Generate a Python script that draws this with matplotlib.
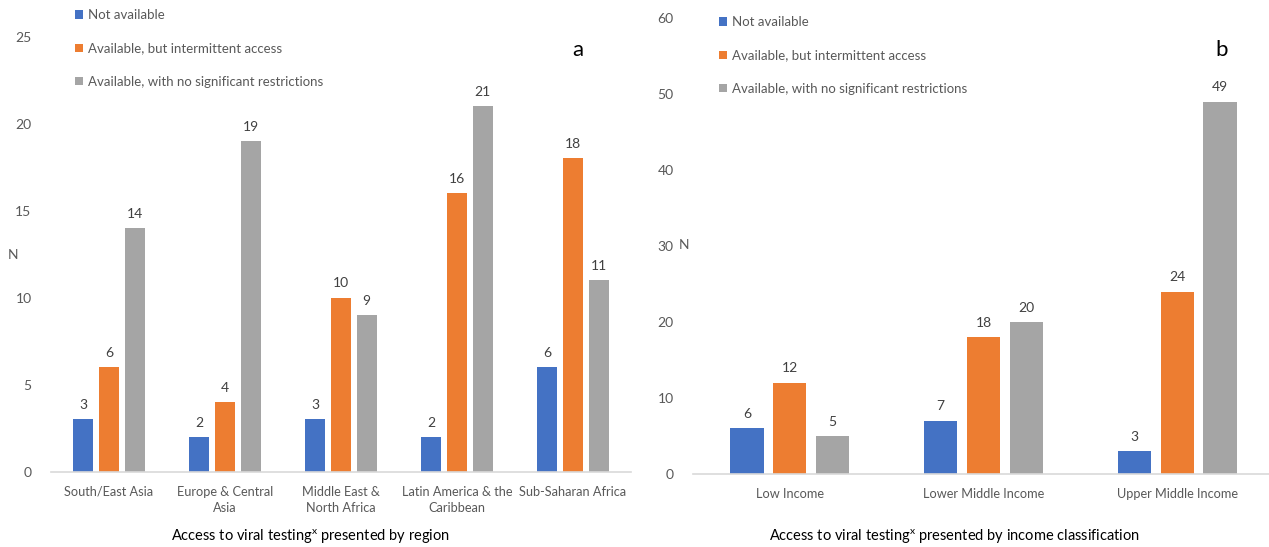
import matplotlib
import matplotlib.pyplot as plt
import numpy as np

plt.rcParams['font.family'] = ['Lato', 'DejaVu Sans']

series = ['Not available', 'Available, but intermittent access',
          'Available, with no significant restrictions']
colors = ['#4472C4', '#ED7D31', '#A5A5A5']

regions = ['South/East Asia', 'Europe & Central\nAsia', 'Middle East &\nNorth Africa',
           'Latin America & the\nCaribbean', 'Sub-Saharan Africa']
region_not = [3, 2, 3, 2, 6]
region_inter = [6, 4, 10, 16, 18]
region_full = [14, 19, 9, 21, 11]

incomes = ['Low Income', 'Lower Middle Income', 'Upper Middle Income']
income_not = [6, 7, 3]
income_inter = [12, 18, 24]
income_full = [5, 20, 49]

W, H = 1269, 547
fig = plt.figure(figsize=(W / 100, H / 100), dpi=100)


def px_axes(x0, x1, y0, y1):
    # axes box given in pixel coords (y measured from top)
    return fig.add_axes([x0 / W, 1 - y1 / H, (x1 - x0) / W, (y1 - y0) / H])


def draw_panel(ax, cats, values, ylim, ystep, letter, letter_xy, title, title_x,
               leg_xy, n_xy):
    x = np.arange(len(cats))
    width, offset = 0.172, 0.221
    for i, (vals, color, name) in enumerate(zip(values, colors, series)):
        pos = x + (i - 1) * offset
        bars = ax.bar(pos, vals, width, color=color, label=name, zorder=2)
        for b, v in zip(bars, vals):
            ax.annotate(str(v), (b.get_x() + b.get_width() / 2, v),
                        xytext=(0, 6), textcoords='offset points',
                        ha='center', va='bottom', fontsize=10, color='#404040')
    ax.set_xlim(-0.5, len(cats) - 0.5)
    ax.set_ylim(*ylim)
    ax.set_yticks(np.arange(ylim[0], ylim[1] + 1, ystep))
    ax.set_xticks(x)
    ax.set_xticklabels(cats, fontsize=9.2, color='#595959', linespacing=1.4)
    ax.tick_params(axis='both', length=0, labelsize=10, colors='#595959')
    ax.tick_params(axis='x', labelsize=9.2)
    ax.tick_params(axis='y', pad=14)
    ax.tick_params(axis='x', pad=10)
    for s in ['top', 'right', 'left']:
        ax.spines[s].set_visible(False)
    ax.spines['bottom'].set_color('#D9D9D9')
    ax.spines['bottom'].set_linewidth(1.2)

    fig.text(letter_xy[0] / W, 1 - letter_xy[1] / H, letter, fontsize=16,
             ha='center', va='center', color='black')
    fig.text(n_xy[0] / W, 1 - n_xy[1] / H, 'N', fontsize=10, color='#595959',
             ha='center', va='center')
    fig.text(title_x / W, 1 - 537 / H, title, fontsize=10.5, ha='center',
             va='center', color='black')
    ax.legend(loc='upper left', bbox_to_anchor=(leg_xy[0] / W, 1 - leg_xy[1] / H),
              bbox_transform=fig.transFigure, frameon=False, fontsize=9.5,
              handlelength=0.6, handleheight=0.6, handletextpad=0.4,
              labelspacing=1.62, borderaxespad=0, borderpad=0,
              labelcolor='#595959')


ax1 = px_axes(51, 631, 36.7, 471.7)
draw_panel(ax1, regions, [region_not, region_inter, region_full], (0, 25), 5,
           'a', (578, 50),
           'Access to viral testing$^{\\mathregular{x}}$ presented by region', 310,
           (75, 9), (13, 255))

ax2 = px_axes(693, 1274, 18, 474)
draw_panel(ax2, incomes, [income_not, income_inter, income_full], (0, 60), 10,
           'b', (1222, 50),
           'Access to viral testing$^{\\mathregular{x}}$ presented by income classification', 954,
           (719, 16), (684, 245))

fig.savefig('out.png', dpi=100)
